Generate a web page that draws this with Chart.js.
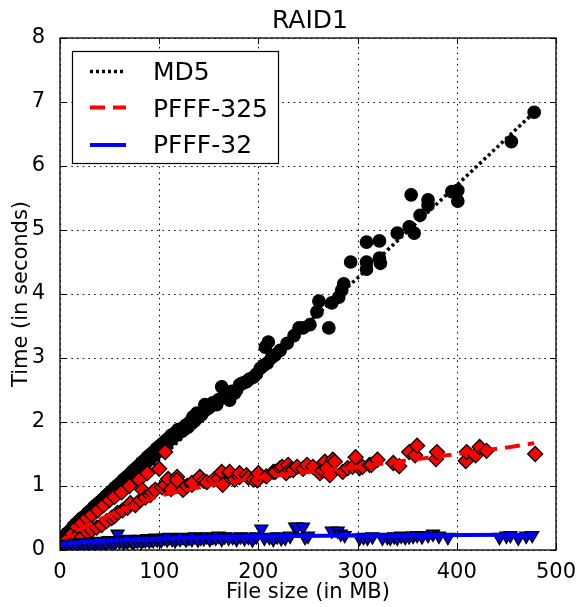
<!DOCTYPE html>
<html><head><meta charset="utf-8">
<script src="https://cdn.jsdelivr.net/npm/chart.js@4/dist/chart.umd.min.js"></script>
<style>html,body{margin:0;padding:0;background:#fff}#wrap{width:582px;height:607px;position:relative}</style>
</head><body><div id="wrap"><canvas id="c" width="582" height="607"></canvas></div>
<script>
const chartTitle = 'RAID1';
const xAxisLabel = 'File size (in MB)';
const yAxisLabel = 'Time (in seconds)';
const seriesNames = ['MD5', 'PFFF-325', 'PFFF-32'];
const xTicks = [0, 100, 200, 300, 400, 500];
const yTicks = [0, 1, 2, 3, 4, 5, 6, 7, 8];

// measured points [file size MB, seconds]
const md5Points = [[1,0.12],[1,0.18],[3,0.16],[4,0.2],[6,0.18],[7,0.26],[9,0.25],[10,0.3],[12,0.29],[13,0.36],[15,0.33],[16,0.41],[18,0.38],[19,0.45],[21,0.42],[22,0.5],[24,0.47],[25,0.53],[27,0.5],[28,0.58],[30,0.54],[31,0.62],[33,0.58],[34,0.67],[36,0.63],[37,0.71],[39,0.68],[40,0.75],[42,0.72],[43,0.79],[45,0.76],[46,0.84],[48,0.8],[49,0.88],[51,0.84],[52,0.92],[54,0.88],[55,0.97],[57,0.93],[58,1.01],[60,0.97],[61,1.05],[63,1.01],[64,1.1],[66,1.06],[67,1.14],[69,1.1],[70,1.18],[72,1.15],[73,1.23],[75,1.19],[76,1.27],[78,1.24],[79,1.31],[81,1.28],[82,1.36],[84,1.32],[85,1.4],[87,1.37],[88,1.45],[90,1.41],[91,1.49],[93,1.45],[94,1.53],[96,1.5],[97,1.58],[99,1.54],[100,1.62],[102,1.58],[103,1.66],[105,1.63],[106,1.7],[108,1.67],[109,1.74],[111,1.72],[112,1.79],[114,1.76],[116,1.83],[118,1.8],[119,1.88],[121,1.84],[123,1.9],[125,1.88],[127,1.95],[129,1.92],[131,2.0],[133,1.98],[134,2.08],[136,2.02],[138,2.14],[140,2.08],[143,2.12],[146,2.27],[148,2.2],[150,2.22],[152,2.25],[154,2.3],[156,2.28],[158,2.27],[160,2.35],[163,2.55],[165,2.4],[168,2.42],[171,2.34],[173,2.48],[176,2.45],[178,2.5],[181,2.58],[183,2.6],[185,2.61],[188,2.63],[191,2.67],[195,2.7],[198,2.75],[202,2.84],[205,2.88],[207,3.17],[209,2.92],[210,3.25],[213,3.0],[217,3.05],[222,3.12],[229,3.23],[236,3.35],[241,3.47],[245,3.47],[252,3.52],[259,3.72],[261,3.89],[271,3.47],[274,3.86],[281,3.95],[284,4.06],[286,4.16],[293,4.5],[309,4.81],[309,4.5],[309,4.39],[322,4.83],[322,4.56],[323,4.48],[340,4.95],[352,5.05],[357,4.95],[354,5.55],[363,5.23],[371,5.47],[371,5.39],[395,5.6],[401,5.62],[401,5.45],[455,6.38],[478,6.84]];

const pfff325Points = [[3,0.13],[8,0.2],[12,0.25],[17,0.36],[22,0.42],[27,0.5],[32,0.55],[38,0.62],[44,0.7],[50,0.78],[55,0.83],[62,0.9],[70,1.0],[80,1.1],[88,1.2],[100,1.27],[106,1.53],
[2,0.1],[5,0.13],[12,0.13],[15,0.18],[22,0.2],[28,0.27],[32,0.31],[37,0.35],[42,0.39],[47,0.45],[52,0.5],[55,0.53],[58,0.58],[63,0.62],[68,0.66],[71,0.73],[76,0.7],[81,0.78],[83,0.94],[86,0.82],[91,0.86],[93,0.9],[96,0.94],[103,0.98],[106,1.02],[109,1.11],[112,0.95],[118,1.14],[118,1.09],[124,0.94],[128,1.0],[133,1.02],[133,1.05],[141,1.14],[145,1.08],[148,1.06],[155,1.1],[160,1.12],[163,1.22],[164,1.02],[171,1.2],[171,1.22],[176,1.1],[181,1.14],[181,1.2],[188,1.17],[190,1.13],[195,1.1],[199,1.09],[200,1.2],[208,1.15],[215,1.22],[217,1.22],[222,1.28],[224,1.3],[228,1.2],[230,1.33],[232,1.25],[235,1.25],[239,1.3],[245,1.27],[249,1.33],[255,1.3],[262,1.2],[265,1.24],[267,1.38],[269,1.28],[272,1.17],[275,1.41],[277,1.38],[285,1.22],[290,1.28],[295,1.3],[298,1.45],[302,1.28],[305,1.3],[312,1.33],[314,1.33],[320,1.41],[336,1.36],[342,1.31],[352,1.53],[358,1.48],[360,1.63],[379,1.42],[380,1.53],[409,1.39],[410,1.53],[419,1.48],[423,1.61],[430,1.55],[479,1.5]];

const pfff32Points = [[1,0.06],[3,0.08],[5,0.07],[7,0.09],[9,0.06],[11,0.1],[13,0.08],[15,0.11],[17,0.07],[19,0.1],[21,0.12],[23,0.09],[25,0.11],[27,0.08],[29,0.12],[31,0.1],[33,0.13],[35,0.09],[37,0.12],[39,0.11],[41,0.14],[43,0.1],[45,0.13],[47,0.11],[49,0.15],[51,0.12],[53,0.14],[55,0.11],[58,0.25],[57,0.15],[60,0.13],[62,0.16],[64,0.12],[66,0.15],[68,0.13],[70,0.17],[72,0.14],[74,0.12],[76,0.16],[78,0.14],[80,0.17],[82,0.13],[84,0.16],[86,0.15],[88,0.18],[90,0.14],[92,0.17],[94,0.15],[96,0.19],[98,0.16],[100,0.18],[102,0.15],[105,0.19],[108,0.16],[110,0.2],[113,0.17],[116,0.15],[118,0.19],[121,0.17],[124,0.2],[127,0.16],[130,0.19],[133,0.17],[136,0.21],[139,0.16],[142,0.19],[145,0.18],[148,0.21],[151,0.17],[154,0.2],[157,0.19],[160,0.22],[163,0.17],[166,0.21],[170,0.19],[174,0.2],[178,0.17],[182,0.21],[186,0.18],[190,0.2],[194,0.16],[198,0.21],[203,0.33],[206,0.19],[211,0.2],[215,0.17],[219,0.21],[223,0.18],[227,0.19],[232,0.22],[237,0.36],[239,0.36],[245,0.36],[247,0.2],[250,0.22],[274,0.3],[280,0.3],[283,0.25],[287,0.23],[302,0.19],[306,0.2],[310,0.19],[315,0.21],[325,0.19],[330,0.2],[333,0.19],[337,0.21],[340,0.19],[344,0.22],[348,0.2],[352,0.21],[356,0.22],[360,0.23],[365,0.21],[371,0.23],[376,0.25],[382,0.22],[391,0.2],[443,0.2],[450,0.22],[454,0.23],[462,0.19],[470,0.22],[476,0.23]];

// fitted curves [file size MB, seconds]
const md5Fit = [[0,0.0],[100,1.42],[200,2.85],[300,4.25],[400,5.7],[478,6.84]];
const pfff325Fit = [[0,0.1],[10,0.22],[25,0.36],[50,0.55],[75,0.7],[100,0.85],[150,1.01],[200,1.13],[250,1.22],[300,1.3],[350,1.4],[400,1.5],[450,1.6],[478,1.67]];
const pfff32Fit = [[0,0.09],[20,0.12],[50,0.15],[100,0.18],[150,0.2],[200,0.215],[300,0.228],[400,0.235],[478,0.24]];

const toXY = arr => arr.map(p => ({x: p[0], y: p[1]}));
const FONT = "'DejaVu Sans', 'Liberation Sans', sans-serif";
Chart.defaults.font.family = FONT;
Chart.defaults.color = '#000';

const fitStyles = [
  {color: '#000000', dash: [3, 3], width: 3.5},
  {color: '#ff0000', dash: [15, 8], width: 4},
  {color: '#0000ff', dash: [], width: 4}
];

const decor = {
  id: 'decor',
  beforeDatasetsDraw(chart) {
    const {ctx, chartArea: a, scales: {x, y}} = chart;
    ctx.save();
    ctx.strokeStyle = '#000';
    ctx.lineWidth = 1;
    ctx.setLineDash([1.5, 4.2]);
    xTicks.forEach(v => {
      const px = Math.round(x.getPixelForValue(v)) + 0.5;
      ctx.beginPath(); ctx.moveTo(px, a.bottom); ctx.lineTo(px, a.top); ctx.stroke();
    });
    yTicks.forEach(v => {
      const py = Math.round(y.getPixelForValue(v)) + 0.5;
      ctx.beginPath(); ctx.moveTo(a.left, py); ctx.lineTo(a.right, py); ctx.stroke();
    });
    ctx.restore();
  },
  afterDraw(chart) {
    const {ctx, chartArea: a, scales: {x, y}} = chart;
    ctx.save();
    ctx.strokeStyle = '#000';
    ctx.lineWidth = 1;
    const seg = (x1, y1, x2, y2) => { ctx.beginPath(); ctx.moveTo(x1, y1); ctx.lineTo(x2, y2); ctx.stroke(); };
    xTicks.forEach(v => {
      const px = Math.round(x.getPixelForValue(v)) + 0.5;
      seg(px, a.bottom, px, a.bottom - 6);
      seg(px, a.top, px, a.top + 6);
    });
    yTicks.forEach(v => {
      const py = Math.round(y.getPixelForValue(v)) + 0.5;
      seg(a.left, py, a.left + 6, py);
      seg(a.right, py, a.right - 6, py);
    });
    ctx.lineWidth = 1.3;
    ctx.strokeRect(a.left, a.top, a.right - a.left, a.bottom - a.top);
    // title
    ctx.fillStyle = '#000';
    ctx.font = '25px ' + FONT;
    ctx.textAlign = 'center';
    ctx.textBaseline = 'alphabetic';
    ctx.fillText(chartTitle, (a.left + a.right) / 2 + 2, 28);
    // legend
    const lx = a.left + 12, ly = a.top + 13, lw = 206, lh = 112;
    ctx.fillStyle = '#fff';
    ctx.fillRect(lx, ly, lw, lh);
    ctx.lineWidth = 1.2;
    ctx.strokeStyle = '#000';
    ctx.strokeRect(lx + 0.5, ly + 0.5, lw, lh);
    const rowsLine = [20.5, 56.5, 94];
    const rowsText = [29, 66, 102];
    seriesNames.forEach((name, i) => {
      const st = fitStyles[i];
      ctx.save();
      ctx.strokeStyle = st.color;
      ctx.lineWidth = st.width;
      ctx.setLineDash(st.dash);
      ctx.lineCap = 'butt';
      seg(lx + 18, ly + rowsLine[i], lx + 54, ly + rowsLine[i]);
      ctx.restore();
      ctx.fillStyle = '#000';
      ctx.font = '25px ' + FONT;
      ctx.textAlign = 'left';
      ctx.textBaseline = 'alphabetic';
      ctx.fillText(name, lx + 81, ly + rowsText[i]);
    });
    ctx.restore();
  }
};

const scatterBase = {type: 'scatter', showLine: false, borderColor: '#000', borderWidth: 1.3, clip: 0};
const datasets = [
  Object.assign({}, scatterBase, {label: seriesNames[0] + ' data', data: toXY(md5Points), backgroundColor: '#000', pointStyle: 'circle', pointRadius: 6.2, pointHoverRadius: 6.2, order: 6}),
  {type: 'scatter', label: seriesNames[0], data: toXY(md5Fit), showLine: true, borderColor: fitStyles[0].color, borderWidth: fitStyles[0].width, borderDash: fitStyles[0].dash, pointRadius: 0, order: 5, clip: 0},
  Object.assign({}, scatterBase, {label: seriesNames[1] + ' data', data: toXY(pfff325Points), backgroundColor: '#ff0000', pointStyle: 'rectRot', pointRadius: 7.5, pointHoverRadius: 7.5, order: 4}),
  {type: 'scatter', label: seriesNames[1], data: toXY(pfff325Fit), showLine: true, borderColor: fitStyles[1].color, borderWidth: fitStyles[1].width, borderDash: fitStyles[1].dash, pointRadius: 0, order: 3, clip: 0},
  Object.assign({}, scatterBase, {label: seriesNames[2] + ' data', data: toXY(pfff32Points), backgroundColor: '#0000ff', pointStyle: 'triangle', rotation: 180, pointRadius: 7.5, pointHoverRadius: 7.5, order: 2}),
  {type: 'scatter', label: seriesNames[2], data: toXY(pfff32Fit), showLine: true, borderColor: fitStyles[2].color, borderWidth: fitStyles[2].width, borderDash: fitStyles[2].dash, pointRadius: 0, order: 1, clip: 0}
];

new Chart(document.getElementById('c'), {
  type: 'scatter',
  data: {datasets},
  plugins: [decor],
  options: {
    responsive: false,
    animation: false,
    devicePixelRatio: 1,
    layout: {padding: {top: 38, right: 26, left: 0, bottom: 0}},
    plugins: {legend: {display: false}, tooltip: {enabled: false}, title: {display: false}},
    scales: {
      x: {
        type: 'linear', min: 0, max: 500,
        afterFit: s => { s.height = 57; },
        afterBuildTicks: s => { s.ticks = xTicks.map(v => ({value: v})); },
        ticks: {font: {size: 21}, padding: 2, maxRotation: 0, autoSkip: false},
        grid: {display: false},
        border: {display: false},
        title: {display: true, text: xAxisLabel, font: {size: 21}, padding: {top: 0, bottom: 2}}
      },
      y: {
        type: 'linear', min: 0, max: 8,
        afterFit: s => { s.width = 60; },
        afterBuildTicks: s => { s.ticks = yTicks.map(v => ({value: v})); },
        ticks: {font: {size: 21}, padding: 7, autoSkip: false},
        grid: {display: false},
        border: {display: false},
        title: {display: true, text: yAxisLabel, font: {size: 21}, padding: {top: 9, bottom: 0}}
      }
    }
  }
});
</script></body></html>
